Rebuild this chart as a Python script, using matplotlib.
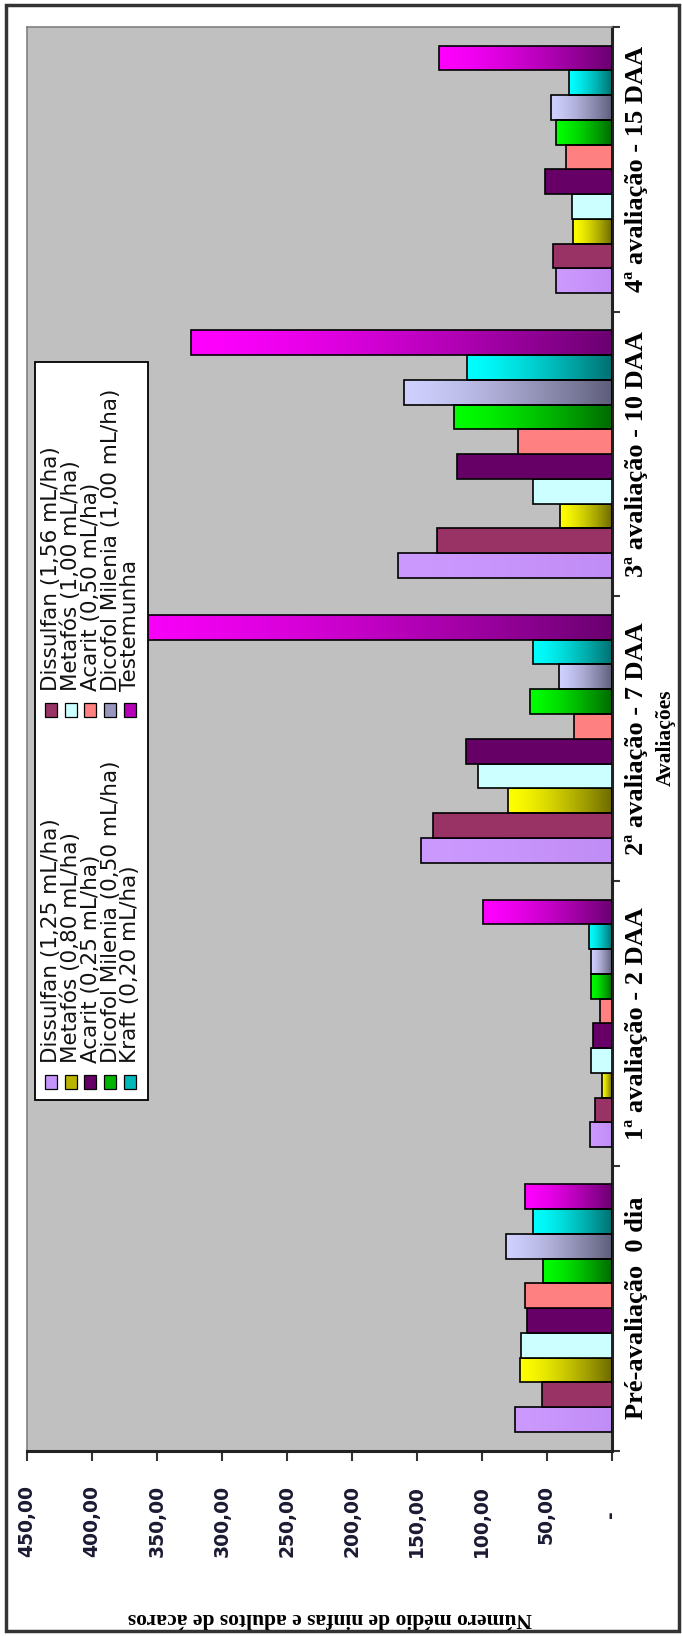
import numpy as np
import matplotlib
matplotlib.use("Agg")
import matplotlib.pyplot as plt
from matplotlib.patches import Rectangle
from matplotlib.colors import to_rgb
from matplotlib.ticker import FixedLocator, FuncFormatter

# --- data -------------------------------------------------------------
categorias = ["Pré-avaliação  0 dia", "1ª avaliação - 2 DAA", "2ª avaliação - 7 DAA",
              "3ª avaliação - 10 DAA", "4ª avaliação - 15 DAA"]

tratamentos = ["Dissulfan (1,25 mL/ha)", "Dissulfan (1,56 mL/ha)",
               "Metafós (0,80 mL/ha)", "Metafós (1,00 mL/ha)",
               "Acarit (0,25 mL/ha)", "Acarit (0,50 mL/ha)",
               "Dicofol Milenia (0,50 mL/ha)", "Dicofol Milenia (1,00 mL/ha)",
               "Kraft (0,20 mL/ha)", "Testemunha"]

dissulfan_125 = [74.3, 16.6, 147.0, 164.3, 42.5]
dissulfan_156 = [53.3, 12.7, 137.8, 134.2, 45.3]
metafos_080 = [70.5, 7.6, 79.5, 39.7, 29.9]
metafos_100 = [70.0, 16.0, 103.1, 60.7, 30.7]
acarit_025 = [65.3, 14.5, 112.1, 119.3, 51.2]
acarit_050 = [66.6, 8.9, 28.9, 71.8, 35.1]
dicofol_050 = [53.0, 15.8, 62.8, 121.1, 42.8]
dicofol_100 = [81.5, 15.8, 40.2, 159.9, 46.6]
kraft_020 = [60.7, 17.6, 60.7, 111.6, 32.7]
testemunha = [66.6, 98.8, 400.0, 323.4, 132.7]

series = [dissulfan_125, dissulfan_156, metafos_080, metafos_100, acarit_025,
          acarit_050, dicofol_050, dicofol_100, kraft_020, testemunha]

# fill: (light end, dark end); identical ends give a flat fill
cores = [("#CC99FF", "#C08CF5"), ("#993366", "#993366"),
         ("#FFFF00", "#6E6A00"), ("#CCFFFF", "#CCFFFF"),
         ("#660066", "#660066"), ("#FF8080", "#FF8080"),
         ("#00FF00", "#006A00"), ("#D0D0FF", "#5E5E7A"),
         ("#00FFFF", "#007070"), ("#FF00FF", "#6A0070")]

ticks_valor = [0, 50, 100, 150, 200, 250, 300, 350, 400, 450]

# --- figure -----------------------------------------------------------
W, H = 682, 1636
fig = plt.figure(figsize=(W / 100, H / 100), dpi=100)
fig.patch.set_facecolor("white")


def fx(x):
    return x / W


def fy(y):
    return 1 - y / H


ax_l, ax_r, ax_t, ax_b = 27, 611.5, 27, 1450.5
ax = fig.add_axes([fx(ax_l), fy(ax_b), (ax_r - ax_l) / W, (ax_b - ax_t) / H])
ax.set_facecolor("#C0C0C0")

n_ser = len(series)
h = 1 / (n_ser + 1.5)
grupos = np.arange(len(categorias))

for i, (vals, (c1, c2)) in enumerate(zip(series, cores)):
    pos = grupos + (i - (n_ser - 1) / 2) * h
    gradiente = c1 != c2
    bars = ax.barh(pos, vals, height=h,
                   color="none" if gradiente else c1,
                   edgecolor="black", linewidth=1.2, zorder=3)
    if gradiente:
        t = np.linspace(0, 1, 256) ** 1.4
        a, b = np.array(to_rgb(c1)), np.array(to_rgb(c2))
        img = ((1 - t)[:, None] * a + t[:, None] * b)[None, :, :]
        for rect, v, p in zip(bars, vals, pos):
            im = ax.imshow(img, extent=(v, 0, p - h / 2, p + h / 2),
                           aspect="auto", interpolation="bilinear", zorder=2)
            im.set_clip_path(rect)

ax.set_xlim(450, 0)
ax.set_ylim(-0.5, len(categorias) - 0.5)

# value axis (bottom)
ax.xaxis.set_major_locator(FixedLocator(ticks_valor))


def fmt(v, _):
    if abs(v) < 1e-9:
        return "-\u2007\u2007"
    return f"{v:.2f}".replace(".", ",")


ax.xaxis.set_major_formatter(FuncFormatter(fmt))
ax.tick_params(axis="x", direction="out", length=7, width=1.5, color="#333333",
               pad=18, labelrotation=90, labelsize=13.5, labelcolor="#1a1a33")
for lab in ax.get_xticklabels():
    lab.set_fontweight("bold")
    lab.set_family("DejaVu Sans")

# category axis (right)
ax.yaxis.tick_right()
ax.set_yticks(np.arange(-0.5, len(categorias), 1.0))
ax.set_yticklabels([])
ax.set_yticks(grupos, minor=True)
ax.set_yticklabels(categorias, minor=True, rotation=90, va="center", ha="left",
                   family="Liberation Serif", fontweight="bold", fontsize=19)
ax.tick_params(axis="y", which="major", direction="out", length=6, width=1.5,
               color="#333333", right=True, left=False)
ax.tick_params(axis="y", which="minor", length=0, pad=10, right=True, left=False)

for s in ("top", "left"):
    ax.spines[s].set_color("#808080")
    ax.spines[s].set_linewidth(1.2)
for s in ("bottom", "right"):
    ax.spines[s].set_color("#222222")
    ax.spines[s].set_linewidth(2.2)

# axis titles
fig.text(fx(330), fy(1618), "Número médio de ninfas e adultos de ácaros",
         rotation=180, ha="center", va="center", family="Liberation Serif",
         fontweight="bold", fontsize=15.5)
fig.text(fx(666), fy(738), "Avaliações", rotation=90, ha="center", va="center",
         family="Liberation Serif", fontweight="bold", fontsize=15.5)

# legend: two blocks of five entries, laid out along the rotated frame
leg_l, leg_r, leg_t, leg_b = 35, 148, 362, 1100
fig.patches.append(Rectangle((fx(leg_l), fy(leg_b)), (leg_r - leg_l) / W,
                             (leg_b - leg_t) / H, transform=fig.transFigure,
                             facecolor="white", edgecolor="black", lw=1.3,
                             zorder=5))
linhas_x = [50.7, 70.5, 90.3, 110.1, 129.9]
marcador_y = [1082, 710]
for i, (nome, (c1, c2)) in enumerate(zip(tratamentos, cores)):
    coluna, linha = i % 2, i // 2
    xc, yc = linhas_x[linha], marcador_y[coluna]
    mix = 0.5 * (np.array(to_rgb(c1)) + np.array(to_rgb(c2)))
    fig.patches.append(Rectangle((fx(xc - 6), fy(yc + 7)), 12 / W, 14 / H,
                                 transform=fig.transFigure, facecolor=mix,
                                 edgecolor="black", lw=0.9, zorder=6))
    fig.text(fx(xc + 0.5), fy(yc - 19), nome, rotation=90, ha="center",
             va="bottom", family="DejaVu Sans", fontsize=15.5, zorder=7,
             color="#111111")

# outer frame
fig.patches.append(Rectangle((fx(6), fy(1631)), (679 - 6) / W, (1631 - 5) / H,
                             transform=fig.transFigure, fill=False,
                             edgecolor="#333333", lw=2.5, zorder=10))

fig.savefig("out.png", dpi=100, facecolor="white")
